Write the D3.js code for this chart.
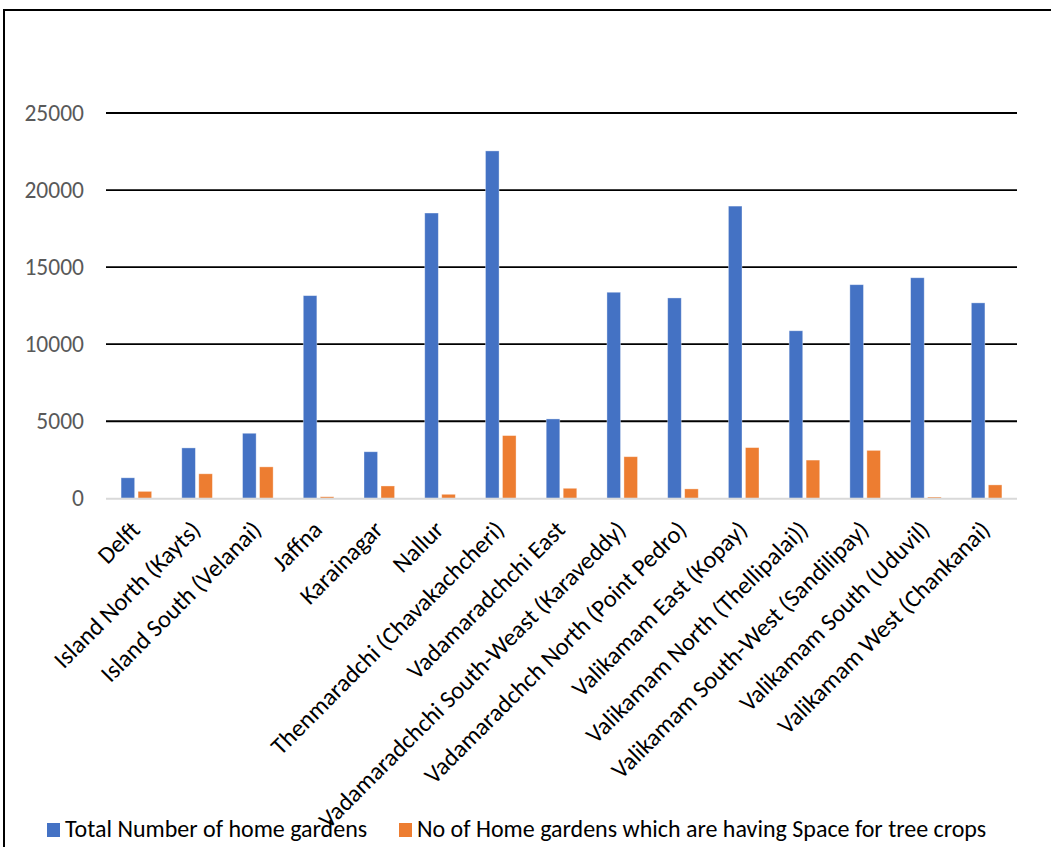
<!DOCTYPE html>
<html lang="en">
<head>
  <meta charset="UTF-8">
  <title>Home gardens by DS division</title>
  <script src="https://d3js.org/d3.v7.min.js"></script>
  <style>
    html, body { margin: 0; padding: 0; background: #fff; }
    svg { display: block; font-family: Carlito, Calibri, Lato, sans-serif; }
  </style>
</head>
<body>
  <svg id="chart" width="1051" height="847"></svg>

  <script>
    // divisions along the x axis
    const divisions = [
      "Delft",
      "Island North (Kayts)",
      "Island South (Velanai)",
      "Jaffna",
      "Karainagar",
      "Nallur",
      "Thenmaradchi (Chavakachcheri)",
      "Vadamaradchchi East",
      "Vadamaradchchi South-Weast (Karaveddy)",
      "Vadamaradchch North (Point Pedro)",
      "Valikamam East (Kopay)",
      "Valikamam North (Thellipalai))",
      "Valikamam South-West (Sandilipay)",
      "Valikamam South (Uduvil)",
      "Valikamam West (Chankanai)"
    ];

    // values
    const totalGardens = [1330, 3270, 4220, 13150, 3020, 18510, 22540, 5150, 13370, 13000, 18960, 10870, 13860, 14310, 12680];
    const treeCropGardens = [450, 1590, 2040, 100, 800, 260, 4070, 650, 2700, 610, 3290, 2480, 3110, 80, 870];

    const seriesNames = ["Total Number of home gardens", "No of Home gardens which are having Space for tree crops"];
    const seriesColors = ["#4472C4", "#ED7D31"];
    const yTicks = [0, 5000, 10000, 15000, 20000, 25000];

    const svg = d3.select("#chart");

    // outer frame, cut off on the right and at the bottom
    svg.append("path")
      .attr("d", "M4,847 L4,10 L1051,10")
      .attr("fill", "none")
      .attr("stroke", "#000")
      .attr("stroke-width", 2);

    const left = 106, right = 1017;
    const y = d3.scaleLinear().domain([0, 25000]).range([498.3, 113]);

    const x0 = d3.scaleBand().domain(divisions).range([left, right]).padding(0);
    const x1 = d3.scaleBand().domain(seriesNames).range([0, x0.bandwidth()])
      .paddingInner(0.2).paddingOuter(0.887);

    // gridlines
    svg.append("g")
      .selectAll("line")
      .data(yTicks.filter(t => t > 0))
      .join("line")
      .attr("x1", left).attr("x2", right)
      .attr("y1", d => y(d)).attr("y2", d => y(d))
      .attr("stroke", "#000")
      .attr("stroke-width", 1.8);

    // y tick labels
    svg.append("g")
      .selectAll("text")
      .data(yTicks)
      .join("text")
      .attr("x", 84)
      .attr("y", d => y(d))
      .attr("dy", "0.34em")
      .attr("text-anchor", "end")
      .attr("fill", "#595959")
      .style("font-size", "23.5px")
      .text(d => d);

    const rows = divisions.map((name, i) => ({ name, values: [totalGardens[i], treeCropGardens[i]] }));

    const groups = svg.append("g")
      .selectAll("g")
      .data(rows)
      .join("g")
      .attr("transform", d => `translate(${x0(d.name)},0)`);

    groups.selectAll("rect")
      .data(d => d.values.map((v, j) => ({ key: seriesNames[j], value: v, j })))
      .join("rect")
      .attr("x", d => x1(d.key))
      .attr("width", x1.bandwidth())
      .attr("y", d => y(d.value))
      .attr("height", d => y(0) - y(d.value))
      .attr("fill", d => seriesColors[d.j])
      .attr("stroke", "#fff")
      .attr("stroke-opacity", 0.45)
      .attr("stroke-width", 0.8);

    // category axis line
    svg.append("line")
      .attr("x1", left).attr("x2", right)
      .attr("y1", y(0) + 0.5).attr("y2", y(0) + 0.5)
      .attr("stroke", "#D9D9D9")
      .attr("stroke-width", 2);

    // rotated category labels
    svg.append("g")
      .selectAll("text")
      .data(divisions)
      .join("text")
      .attr("transform", d => `translate(${x0(d) + x0.bandwidth() / 2 + 5},${y(0) + 33}) rotate(-45)`)
      .attr("text-anchor", "end")
      .attr("fill", "#000")
      .style("font-size", "24.5px")
      .text(d => d);

    // legend
    const legendItems = [
      { name: seriesNames[0], color: seriesColors[0], x: 47 },
      { name: seriesNames[1], color: seriesColors[1], x: 399 }
    ];
    const legend = svg.append("g")
      .selectAll("g")
      .data(legendItems)
      .join("g")
      .attr("transform", d => `translate(${d.x},823)`);
    legend.append("rect")
      .attr("width", 13).attr("height", 14)
      .attr("fill", d => d.color);
    legend.append("text")
      .attr("x", 18).attr("y", 14)
      .attr("fill", "#000")
      .style("font-size", "24px")
      .text(d => d.name);
  </script>
</body>
</html>
